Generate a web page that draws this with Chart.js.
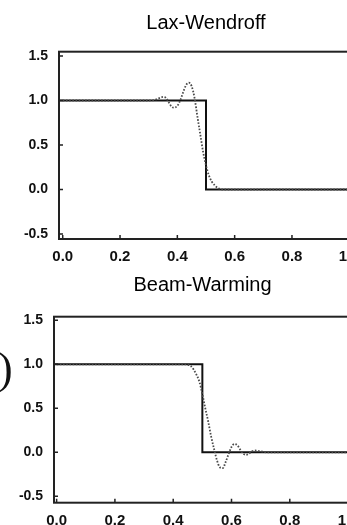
<!DOCTYPE html>
<html>
<head>
<meta charset="utf-8">
<script src="https://cdn.jsdelivr.net/npm/chart.js@4.4.0/dist/chart.umd.min.js"></script>
<style>
  html, body { margin: 0; padding: 0; background: #fff; overflow: hidden; width: 347px; height: 525px; }
  .panel { position: absolute; left: 0; }
  .panel canvas { display: block; }
  #paren { position: absolute; left: -2px; top: 347px; font-family: "Liberation Serif", serif; font-size: 44px; line-height: 1; color: #111; }
</style>
</head>
<body>
<div class="panel" style="top:0"><canvas id="laxChart" width="380" height="265"></canvas></div>
<div class="panel" style="top:262px"><canvas id="beamChart" width="380" height="271"></canvas></div>
<span id="paren">)</span>
<script>
// scheme names
var laxTitle = 'Lax-Wendroff';
var beamTitle = 'Beam-Warming';

// exact solution: step down at x = 0.5 (runs past both sides of the frame)
var exactX = [-0.1, 0.5, 0.5, 1.1];
var exactU = [1, 1, 0, 0];

// Lax-Wendroff numerical solution (dotted)
var laxX = [0, 0.30, 0.32, 0.34, 0.35, 0.36, 0.37, 0.38, 0.39, 0.40, 0.41, 0.42, 0.43, 0.44, 0.45,
            0.46, 0.47, 0.48, 0.49, 0.50, 0.51, 0.52, 0.53, 0.54, 0.56, 0.60, 1.0];
var laxU = [1, 1, 1.005, 1.03, 1.04, 1.03, 0.98, 0.93, 0.92, 0.94, 1.00, 1.09, 1.17, 1.20, 1.16,
            1.03, 0.82, 0.62, 0.42, 0.27, 0.16, 0.09, 0.05, 0.02, 0.0, 0, 0];

// Beam-Warming numerical solution (dotted)
var beamX = [0, 0.44, 0.45, 0.46, 0.47, 0.48, 0.49, 0.50, 0.51, 0.52, 0.53, 0.54, 0.55, 0.56, 0.57,
             0.58, 0.59, 0.60, 0.61, 0.62, 0.63, 0.64, 0.65, 0.66, 0.67, 0.68, 0.70, 0.72, 1.0];
var beamU = [1, 1, 0.995, 0.98, 0.94, 0.88, 0.80, 0.66, 0.50, 0.35, 0.18, 0.04, -0.09, -0.17, -0.18,
             -0.11, -0.02, 0.06, 0.095, 0.08, 0.03, -0.015, -0.03, -0.015, 0.01, 0.02, 0.01, 0, 0];

// tick spacing
var xStep = 0.2;
var yStep = 0.5;

const toPoints = (xs, ys) => xs.map((x, i) => ({ x: x, y: ys[i] }));

// frame around the plot plus short inward tick marks
const framePlugin = {
  id: 'frame',
  afterDraw(chart) {
    const ctx = chart.ctx;
    const a = chart.chartArea;
    const xs = chart.scales.x, ys = chart.scales.y;
    ctx.save();
    ctx.strokeStyle = '#222';
    ctx.lineWidth = 2;
    ctx.strokeRect(a.left, a.top, a.right - a.left, a.bottom - a.top);
    ctx.lineWidth = 1.5;
    ctx.beginPath();
    xs.ticks.forEach(t => {
      const px = xs.getPixelForValue(t.value);
      ctx.moveTo(px, a.bottom);
      ctx.lineTo(px, a.bottom - 4);
    });
    ys.ticks.forEach(t => {
      const py = ys.getPixelForValue(t.value);
      ctx.moveTo(a.left, py);
      ctx.lineTo(a.left + 4, py);
    });
    ctx.stroke();
    ctx.restore();
  }
};

function makePanel(id, title, numX, numU, box) {
  var ctx = document.getElementById(id);
  return new Chart(ctx, {
    type: 'line',
    data: {
      datasets: [{
        data: toPoints(numX, numU),
        borderColor: '#4a4a4a',
        borderWidth: 1.8,
        borderDash: [1.6, 1.6],
        pointRadius: 0,
        cubicInterpolationMode: 'monotone',
        fill: false
      }, {
        data: toPoints(exactX, exactU),
        borderColor: '#111',
        borderWidth: 2,
        pointRadius: 0,
        tension: 0,
        fill: false
      }]
    },
    options: {
      responsive: false,
      animation: false,
      events: [],
      layout: { padding: { left: 0, top: 0, bottom: 0, right: box.padRight } },
      scales: {
        x: {
          type: 'linear',
          min: box.xMin,
          max: box.xMax,
          grid: { display: false, drawTicks: false },
          border: { display: false },
          afterFit: s => { s.height = box.xHeight; },
          ticks: {
            stepSize: xStep,
            includeBounds: false,
            autoSkip: false,
            maxRotation: 0,
            padding: 9,
            color: '#111',
            font: { family: 'Liberation Sans', size: 15, weight: 'bold' },
            callback: v => v.toFixed(1)
          }
        },
        y: {
          type: 'linear',
          min: box.yMin,
          max: box.yMax,
          grid: { display: false, drawTicks: false },
          border: { display: false },
          afterFit: s => { s.width = box.yWidth; },
          ticks: {
            stepSize: yStep,
            includeBounds: false,
            padding: 11,
            color: '#111',
            font: { family: 'Liberation Sans', size: 14, weight: 'bold' },
            callback: v => v.toFixed(1)
          }
        }
      },
      plugins: {
        legend: { display: false },
        tooltip: { enabled: false },
        title: {
          display: true,
          text: title,
          fullSize: false,
          color: '#000',
          font: { family: 'Liberation Sans', size: 20, weight: 'normal', lineHeight: 1.2 },
          padding: { top: 11, bottom: box.titleGap }
        }
      }
    },
    plugins: [framePlugin]
  });
}

makePanel('laxChart', laxTitle, laxX, laxU, {
  yWidth: 59, xHeight: 26, padRight: 27, titleGap: 16.7,
  xMin: -0.013, xMax: 1.013, yMin: -0.556, yMax: 1.548
});

makePanel('beamChart', beamTitle, beamX, beamU, {
  yWidth: 54, xHeight: 30.3, padRight: 29, titleGap: 19.7,
  xMin: -0.009, xMax: 1.01, yMin: -0.573, yMax: 1.54
});
</script>
</body>
</html>
